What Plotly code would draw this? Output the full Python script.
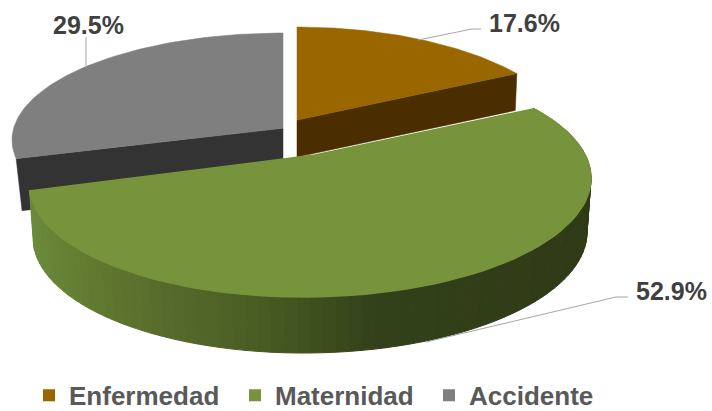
import math
import numpy as np
import plotly.graph_objects as go

# ---- data ----
categories = ["Enfermedad", "Maternidad", "Accidente"]
values = [17.6, 52.9, 29.5]
top_colors = ["#996600", "#77933C", "#7F7F7F"]
inner_colors = ["#4A2E00", "#2F3B17", "#333333"]

# ---- drawing geometry (pixel space), one disc per slice: top face and bottom face ----
# ex, ey: ellipse centre; a, b: radii; tilt: rise to the right; c: perspective shift of the pie centre
GEO = {
    "Enfermedad": dict(top=(297, 148, 279, 121, 0.0), low=(297, 185, 277, 121, 0.0), c=(0.0, 0.231)),
    "Maternidad": dict(top=(310, 181, 281, 116, 0.01), low=(310, 235, 277, 118, 0.01), c=(0.018, 0.224)),
    "Accidente": dict(top=(283, 140, 271, 107, 0.0), low=(283, 192, 265, 107, 0.0), c=(0.0, 0.11)),
}
SIDE_STOPS = [(35, "#6A8A3A"), (100, "#61782F"), (180, "#55692B"), (250, "#4B5F25"),
              (320, "#3E4F1E"), (370, "#33421A"), (590, "#2F3B17")]


def hex_rgb(h):
    return [int(h[i:i + 2], 16) for i in (1, 3, 5)]


def side_color(x):
    xs = [s[0] for s in SIDE_STOPS]
    cols = np.array([hex_rgb(s[1]) for s in SIDE_STOPS], dtype=float)
    return "rgb(%d,%d,%d)" % tuple(np.interp(x, xs, cols[:, i]) for i in range(3))


def project(theta, r, face, c):
    """Perspective image of a polar point of the pie on an ellipse of the screen."""
    ex, ey, a, b, tilt = face
    p = np.array([r * math.sin(math.radians(theta)), r * math.cos(math.radians(theta))])
    c = np.array(c)
    n = np.linalg.norm(c)
    h = c / n
    par = p.dot(h) * h
    perp = p - par
    q = (par + c + math.sqrt(1 - n * n) * perp) / (1 + c.dot(p))
    return float(ex + a * q[0]), float(ey - b * q[1] - tilt * a * q[0])


def arc(t0, t1, face, c, n=80):
    return [project(t, 1, face, c) for t in np.linspace(t0, t1, n)]


def poly(fig, pts, color, lw=0.5):
    xs = [p[0] for p in pts] + [pts[0][0]]
    ys = [p[1] for p in pts] + [pts[0][1]]
    fig.add_trace(go.Scatter(x=xs, y=ys, mode="lines", fill="toself", fillcolor=color,
                             line=dict(color=color, width=lw), hoverinfo="skip", showlegend=False))


# slice angles from the values
bounds = {}
acc = 0.0
total = sum(values)
for name, val in zip(categories, values):
    bounds[name] = (acc / total * 360, (acc + val) / total * 360)
    acc += val

fig = go.Figure()


def draw_back(name, edge_angle, color, inner):
    g = GEO[name]
    t0, t1 = bounds[name]
    poly(fig, [project(0, 0, g["top"], g["c"]), project(edge_angle, 1, g["top"], g["c"]),
               project(edge_angle, 1, g["low"], g["c"]), project(0, 0, g["low"], g["c"])], inner)
    poly(fig, [project(0, 0, g["top"], g["c"])] + arc(t0, t1, g["top"], g["c"]), color)


draw_back("Accidente", bounds["Accidente"][0], top_colors[2], inner_colors[2])
draw_back("Enfermedad", bounds["Enfermedad"][1], top_colors[0], inner_colors[0])

# front slice: side wall in thin strips, then top face
g = GEO["Maternidad"]
t0, t1 = bounds["Maternidad"]
steps = np.linspace(t0, t1, 90)
for a0, a1 in zip(steps[:-1], steps[1:]):
    p = [project(a0, 1, g["top"], g["c"]), project(a1, 1, g["top"], g["c"]),
         project(a1, 1, g["low"], g["c"]), project(a0, 1, g["low"], g["c"])]
    poly(fig, p, side_color(sum(q[0] for q in p) / 4), lw=1)
poly(fig, [project(0, 0, g["top"], g["c"])] + arc(t0, t1, g["top"], g["c"]), top_colors[1], lw=1.5)

# leader lines
LEADERS = [[(418, 40), (472, 29), (481, 29)],
           [(426, 342), (616, 297), (628, 297)],
           [(86, 68), (86, 37)]]
for ld in LEADERS:
    fig.add_trace(go.Scatter(x=[p[0] for p in ld], y=[p[1] for p in ld], mode="lines",
                             line=dict(color="#A6A6A6", width=1), hoverinfo="skip", showlegend=False))

# legend entries, one legend per entry to place each one
LEGEND_IDS = ["legend", "legend2", "legend3"]
LEGEND_TEXT_X = [70, 276, 470]
legend_layout = {}
for name, col, lid, tx in zip(categories, top_colors, LEGEND_IDS, LEGEND_TEXT_X):
    fig.add_trace(go.Scatter(x=[None], y=[None], mode="markers", name=name, legend=lid, showlegend=True,
                             marker=dict(symbol="square", size=12, color=col)))
    legend_layout[lid] = dict(x=(tx - 41) / 712, xanchor="left", y=-0.019, yanchor="bottom",
                              font=dict(family="Liberation Sans", size=26, color="#595959", weight="bold"),
                              bgcolor="rgba(0,0,0,0)", itemclick=False, itemdoubleclick=False)

# data labels
LABEL_POS = {"Enfermedad": (524, 23), "Maternidad": (671, 291), "Accidente": (88, 25)}
for name, val in zip(categories, values):
    x, y = LABEL_POS[name]
    fig.add_annotation(x=x, y=y, text="<b>%.1f%%</b>" % val, showarrow=False,
                       font=dict(family="Liberation Sans", size=25, color="#404040"))

fig.update_layout(
    width=712, height=411, margin=dict(l=0, r=0, t=0, b=0, autoexpand=False),
    paper_bgcolor="white", plot_bgcolor="white",
    xaxis=dict(range=[0, 712], visible=False, fixedrange=True),
    yaxis=dict(range=[411, 0], visible=False, fixedrange=True),
    **legend_layout,
)
fig.write_html("out.html", config={"displayModeBar": False},
               post_script="document.body.style.margin='0';")
